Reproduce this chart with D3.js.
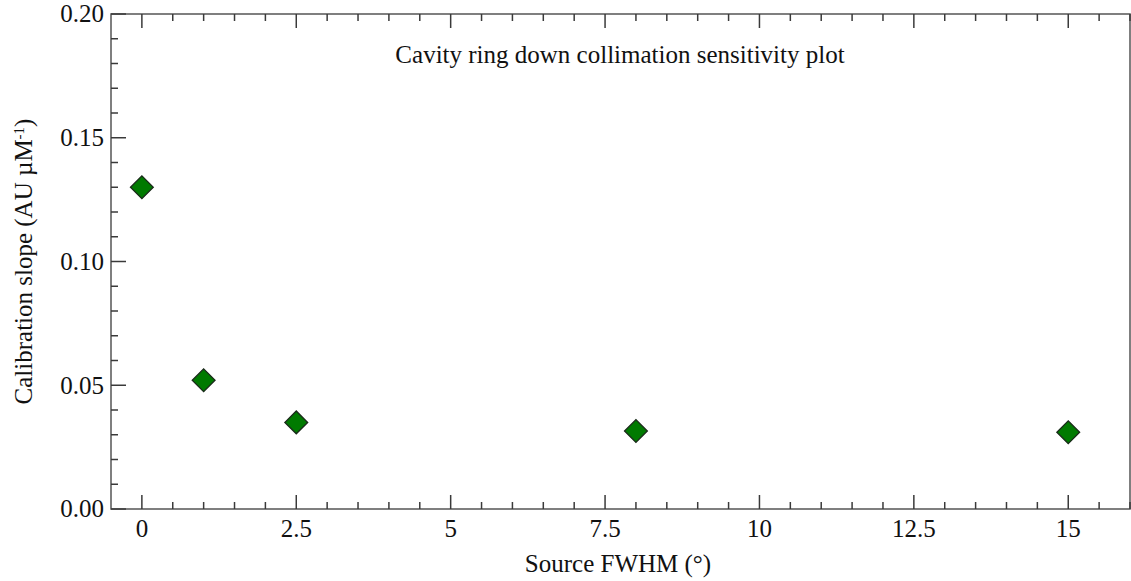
<!DOCTYPE html>
<html>
<head>
<meta charset="utf-8">
<script src="https://cdn.jsdelivr.net/npm/d3@7"></script>
<style>
  body { margin: 0; background: #fff; }
  text { font-family: "Liberation Serif", "Times New Roman", serif; fill: #111; }
</style>
</head>
<body>
<svg id="chart" width="1131" height="581"></svg>
<script>
// Source FWHM (degrees) and the measured calibration slope
const fwhm = [0, 1, 2.5, 8, 15];
const slope = [0.130, 0.052, 0.035, 0.0315, 0.031];
const xTicks = [0, 2.5, 5, 7.5, 10, 12.5, 15];
const yTicks = [0, 0.05, 0.10, 0.15, 0.20];

const svg = d3.select("#chart");
const plotL = 111, plotR = 1130, plotT = 14, plotB = 509;

const x = d3.scaleLinear().domain([-0.5, 16]).range([plotL, plotR]);
const y = d3.scaleLinear().domain([0, 0.20]).range([plotB, plotT]);

const axisColor = "#3a3a3a";

// frame
svg.append("rect")
  .attr("x", plotL).attr("y", plotT)
  .attr("width", plotR - plotL).attr("height", plotB - plotT)
  .attr("fill", "none").attr("stroke", "#555").attr("stroke-width", 1.5);

// x minor/major ticks (bottom and top, pointing inward)
const xMinor = d3.range(0, 16.01, 0.5).filter(v => !xTicks.includes(v));
const xg = svg.append("g").attr("stroke", axisColor).attr("stroke-width", 1.5);
xTicks.forEach(v => {
  xg.append("line").attr("x1", x(v)).attr("x2", x(v)).attr("y1", plotB).attr("y2", plotB - 14);
  xg.append("line").attr("x1", x(v)).attr("x2", x(v)).attr("y1", plotT).attr("y2", plotT + 14);
});
xMinor.forEach(v => {
  xg.append("line").attr("x1", x(v)).attr("x2", x(v)).attr("y1", plotB).attr("y2", plotB - 7);
  xg.append("line").attr("x1", x(v)).attr("x2", x(v)).attr("y1", plotT).attr("y2", plotT + 7);
});

// y ticks on the left
const yMinor = d3.range(0, 0.2001, 0.01).filter(v => !yTicks.some(t => Math.abs(t - v) < 1e-9));
const yg = svg.append("g").attr("stroke", axisColor).attr("stroke-width", 1.5);
yTicks.forEach(v => {
  yg.append("line").attr("x1", plotL).attr("x2", plotL + 15).attr("y1", y(v)).attr("y2", y(v));
});
yMinor.forEach(v => {
  yg.append("line").attr("x1", plotL).attr("x2", plotL + 7).attr("y1", y(v)).attr("y2", y(v));
});

// tick labels
svg.append("g").selectAll("text").data(xTicks).join("text")
  .attr("x", d => x(d)).attr("y", 537)
  .attr("text-anchor", "middle").attr("font-size", 25)
  .text(d => String(d));

svg.append("g").selectAll("text").data(yTicks).join("text")
  .attr("x", 104).attr("y", d => y(d)).attr("dy", "0.33em")
  .attr("text-anchor", "end").attr("font-size", 25)
  .text(d => d.toFixed(2));

// axis titles
svg.append("text")
  .attr("x", 618).attr("y", 572)
  .attr("text-anchor", "middle").attr("font-size", 25)
  .text("Source FWHM (°)");

const yl = svg.append("text")
  .attr("transform", `translate(32, ${(plotT + plotB) / 2}) rotate(-90)`)
  .attr("text-anchor", "middle").attr("font-size", 25);
yl.append("tspan").text("Calibration slope (AU µM");
yl.append("tspan").attr("baseline-shift", "super").attr("font-size", 15).text("-1");
yl.append("tspan").text(")");

// chart title
svg.append("text")
  .attr("x", 620).attr("y", 63)
  .attr("text-anchor", "middle").attr("font-size", 25)
  .text("Cavity ring down collimation sensitivity plot");

// data points as diamonds
const diamond = d3.symbol().type(d3.symbolSquare).size(260);
svg.append("g").selectAll("path").data(fwhm.map((f, i) => [f, slope[i]])).join("path")
  .attr("d", diamond)
  .attr("transform", d => `translate(${x(d[0])}, ${y(d[1])}) rotate(45)`)
  .attr("fill", "#007a00")
  .attr("stroke", "#1a2a1a").attr("stroke-width", 1.3);
</script>
</body>
</html>
